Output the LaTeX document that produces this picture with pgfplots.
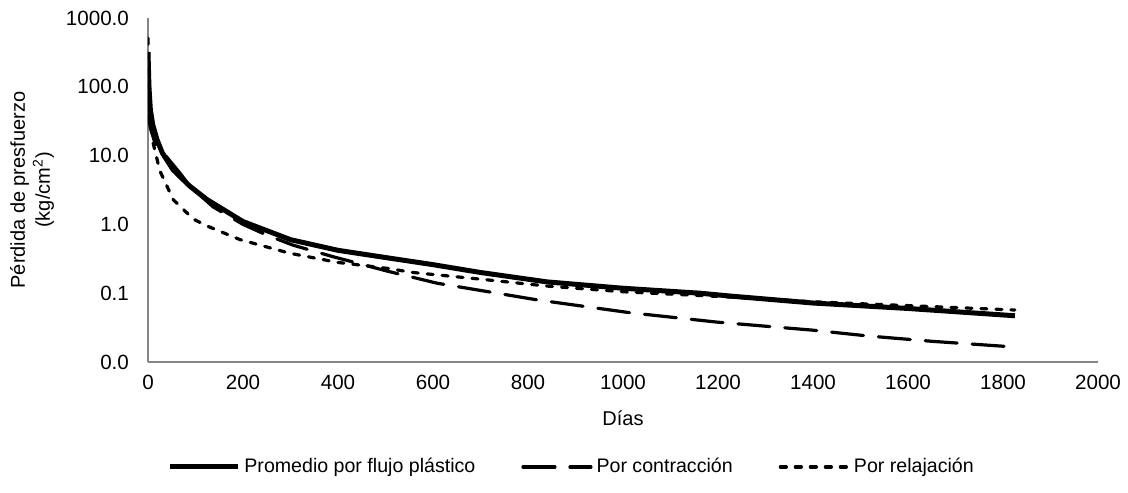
\documentclass[border=0pt]{standalone}
\usepackage{fontspec}
\setmainfont{Liberation Sans}
\usepackage{pgfplots}
\pgfplotsset{compat=1.18}
\definecolor{axgray}{RGB}{134,134,134}

\begin{document}
\begin{tikzpicture}
\begin{axis}[
  scale only axis,
  width=475pt, height=172pt,
  ymode=log,
  xmin=0, xmax=2000, ymin=0.01, ymax=1000,
  xtick={0,200,...,2000},
  ytick={0.01,0.1,1,10,100,1000},
  yticklabels={0.0,0.1,1.0,10.0,100.0,1000.0},
  log ticks with fixed point,
  minor tick num=0,
  yminorticks=false,
  major tick length=0pt,
  axis x line*=bottom, axis y line*=left,
  axis line style={axgray, line width=0.75pt, -},
  tick label style={font=\fontsize{10.3}{12}\selectfont},
  /pgf/number format/assume math mode=true,
  xticklabel style={/pgf/number format/1000 sep={}, yshift=-3pt},
  yticklabel style={xshift=-6pt},
  xlabel={Días},
  xlabel style={at={(axis description cs:0.5,-0.163)}, anchor=center, font=\fontsize{10}{12}\selectfont},
  ylabel={Pérdida de presfuerzo\\(kg/cm\textsuperscript{2})},
  ylabel style={align=center, at={(axis description cs:-0.122,0.5)}, anchor=center, font=\fontsize{10}{12.5}\selectfont},
  legend columns=3,
  legend style={at={(0.02,-0.305)}, anchor=west, draw=none, fill=none,
    font=\fontsize{9.8}{12}\selectfont, inner sep=0pt,
    /tikz/every even column/.append style={column sep=21pt}},
  legend image code/.code={\draw[#1] (0pt,0pt) -- (34pt,0pt);},
]
\addplot[black, line width=2.5pt] coordinates {
(0,320) (2,100) (5,46) (10,28) (19,17) (30,11) (53,6.2) (88,3.6) (124,2.3)
(200,1.1) (300,0.60) (400,0.42) (500,0.33) (600,0.26) (700,0.20) (840,0.146)
(1000,0.118) (1162,0.10) (1225,0.091) (1400,0.072) (1600,0.060) (1825,0.047)};
\addlegendentry{Promedio por flujo plástico}
\addplot[black, line width=1.6pt, line cap=round, dash pattern=on 16pt off 7.5pt] coordinates {
(0,40) (5,25) (15,15) (32,11) (67,5.6) (88,3.6) (137,1.8) (200,1.0) (250,0.70)
(305,0.50) (389,0.34) (503,0.21) (608,0.14) (819,0.080) (1015,0.052) (1198,0.038)
(1400,0.029) (1513,0.024) (1650,0.020) (1825,0.0165)};
\addlegendentry{Por contracción}
\addplot[black, line width=1.6pt, line cap=round, dash pattern=on 3pt off 4.5pt] coordinates {
(0,510) (2,150) (5,50) (11,15) (25,6) (53,2.3) (95,1.2) (124,0.95) (194,0.6)
(299,0.38) (400,0.28) (503,0.23) (558,0.20) (700,0.16) (840,0.127) (1000,0.105)
(1225,0.088) (1400,0.075) (1600,0.066) (1825,0.057)};
\addlegendentry{Por relajación}
\coordinate (O) at (rel axis cs:0,0);
\end{axis}
\pgfresetboundingbox
\path (O) ++(-74pt,-65pt) rectangle ++(564pt,246pt);
\end{tikzpicture}
\end{document}
